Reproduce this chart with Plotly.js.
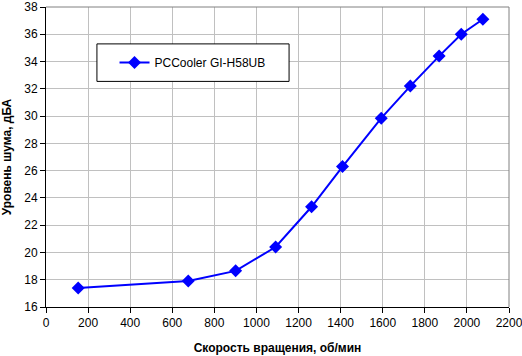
<!DOCTYPE html>
<html>
<head>
<meta charset="utf-8">
<script src="https://cdn.plot.ly/plotly-3.0.1.min.js"></script>
<style>html,body{margin:0;padding:0;background:#fff;}#chart{width:522px;height:356px;}</style>
</head>
<body>
<div id="chart"></div>
<script>
const seriesName = "PCCooler GI-H58UB";
const speedRpm = [153, 676, 901, 1091, 1262, 1409, 1593, 1731, 1868, 1973, 2076];
const noiseDb = [17.4, 17.9, 18.65, 20.4, 23.35, 26.3, 29.85, 32.2, 34.4, 36.0, 37.1];
const xTicks = [0, 200, 400, 600, 800, 1000, 1200, 1400, 1600, 1800, 2000, 2200];
const yTicks = [16, 18, 20, 22, 24, 26, 28, 30, 32, 34, 36, 38];
const xTitle = "Скорость вращения, об/мин";
const yTitle = "Уровень шума, дБА";

const font = "Liberation Sans, Arial, sans-serif";
const trace = {
  x: speedRpm, y: noiseDb, name: seriesName, type: "scatter", mode: "lines+markers",
  line: {color: "#0000FF", width: 2},
  marker: {symbol: "diamond", size: 10, color: "#0000FF"}
};
const layout = {
  width: 522, height: 356,
  margin: {l: 46, r: 13, t: 7, b: 49},
  paper_bgcolor: "#fff", plot_bgcolor: "#fff",
  font: {family: font, size: 12, color: "#000"},
  showlegend: true,
  legend: {x: 0.148, y: 0.815, xanchor: "left", yanchor: "middle", bgcolor: "rgba(0,0,0,0)",
           borderwidth: 0, font: {family: font, size: 12, color: "#000"}},
  xaxis: {range: [0, 2200], tickvals: xTicks, ticktext: xTicks.map(String),
          showgrid: true, gridcolor: "#C0C0C0", gridwidth: 1,
          showline: true, linecolor: "#000", linewidth: 1, ticklabeloverflow: "allow",
          ticks: "outside", ticklen: 5, tickcolor: "#000", zeroline: false,
          tickfont: {family: font, size: 12},
          title: {text: xTitle, font: {family: font, size: 12, weight: "bold"}, standoff: 14}},
  yaxis: {range: [16, 38], tickvals: yTicks, ticktext: yTicks.map(String),
          showgrid: true, gridcolor: "#C0C0C0", gridwidth: 1,
          showline: true, linecolor: "#000", linewidth: 1, ticklabeloverflow: "allow",
          ticks: "outside", ticklen: 5, tickcolor: "#000", zeroline: false,
          tickfont: {family: font, size: 12},
          title: {text: yTitle, font: {family: font, size: 12, weight: "bold"}, standoff: 10}},
  shapes: [
    {type: "line", xref: "paper", yref: "paper", x0: 0, x1: 1, y0: 1, y1: 1, line: {color: "#808080", width: 1}},
    {type: "line", xref: "paper", yref: "paper", x0: 1, x1: 1, y0: 0, y1: 1, line: {color: "#808080", width: 1}},
    {type: "rect", xref: "paper", yref: "paper", x0: 0.110, x1: 0.525, y0: 0.752, y1: 0.877,
     fillcolor: "#fff", line: {color: "#000", width: 1}, layer: "above"}
  ]
};
Plotly.newPlot("chart", [trace], layout, {staticPlot: true, displayModeBar: false});
</script>
</body>
</html>
